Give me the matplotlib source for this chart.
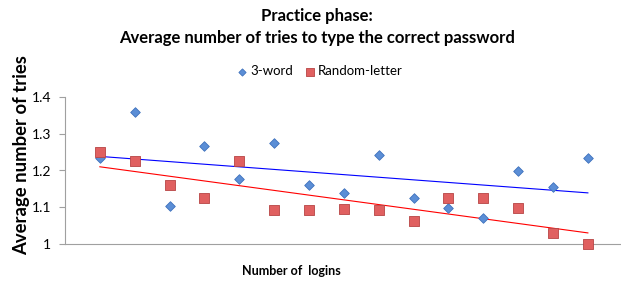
# Practice phase: average tries per login, scatter with linear trendlines
import matplotlib.pyplot as plt
import numpy as np

plt.rcParams['font.family'] = ['Lato', 'DejaVu Sans']

logins = np.arange(1, 16)
three_word = [1.234, 1.358, 1.103, 1.266, 1.177, 1.274, 1.160, 1.138,
              1.242, 1.125, 1.097, 1.070, 1.199, 1.155, 1.233]
random_letter = [1.250, 1.226, 1.160, 1.125, 1.226, 1.093, 1.093, 1.095,
                 1.093, 1.063, 1.125, 1.125, 1.098, 1.030, 1.000]
yticks = [1, 1.1, 1.2, 1.3, 1.4]
ytick_labels = ['1', '1.1', '1.2', '1.3', '1.4']

fig = plt.figure(figsize=(6.21, 2.81), dpi=100)
ax = fig.add_axes([65/621, 37/281, 556/621, 147/281])

ax.scatter(logins, three_word, marker='D', s=24, color='#5b8ed6',
           edgecolor='#3f72bd', linewidth=0.6, label='3-word', zorder=3, clip_on=False)
ax.scatter(logins, random_letter, marker='s', s=50, color='#e06060',
           edgecolor='#b84444', linewidth=0.6, label='Random-letter', zorder=3, clip_on=False)

# linear trendlines
for vals, c in [(three_word, 'blue'), (random_letter, 'red')]:
    k, b = np.polyfit(logins, vals, 1)
    ax.plot(logins, k*logins + b, color=c, lw=0.8, zorder=2)

ax.set_xlim(0, 15.95)
ax.set_ylim(1, 1.4)
ax.set_yticks(yticks)
ax.set_yticklabels(ytick_labels, fontsize=10)
ax.set_xticks([])
ax.tick_params(axis='y', length=4, color='#a0a0a0', pad=6)
for s in ['top', 'right']:
    ax.spines[s].set_visible(False)
for s in ['left', 'bottom']:
    ax.spines[s].set_color('#a0a0a0')

fig.text(0.034, 0.448, 'Average number of tries', fontsize=13.3, fontweight='bold',
         rotation=90, ha='center', va='center')
fig.text(0.469, 0.036, 'Number of  logins', fontsize=9, fontweight='bold',
         ha='center', va='center')

fig.text(0.511, 0.943, 'Practice phase:', fontsize=12, fontweight='bold', ha='center', va='center')
fig.text(0.511, 0.865, 'Average number of tries to type the correct password',
         fontsize=12, fontweight='bold', ha='center', va='center')

leg = fig.legend(loc='center', bbox_to_anchor=(0.514, 0.747), ncol=2, frameon=False,
                 fontsize=9.5, handletextpad=0.1, columnspacing=0.8, markerscale=0.75,
                 handlelength=1.0)

fig.savefig('out.png', dpi=100)
